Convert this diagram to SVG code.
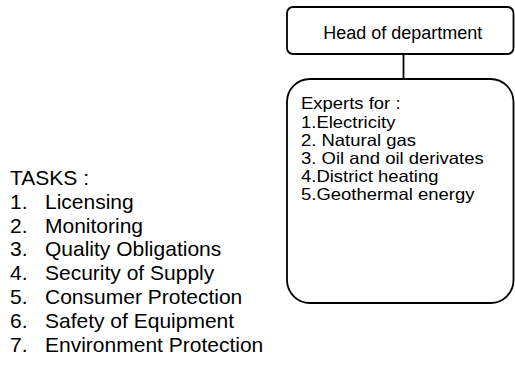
<svg xmlns="http://www.w3.org/2000/svg" width="515" height="369" viewBox="0 0 515 369">
<style>
.box{fill:#fff;stroke:#000;stroke-width:1.8}
.conn{stroke:#000;stroke-width:1.8;fill:none}
text{font-family:"Liberation Sans",Arial,sans-serif;fill:#000}
.t{font-size:18px}
.r{font-size:16.5px}
.l{font-size:21px}
</style>
<rect width="515" height="369" fill="#fff"/>
<g id="connectors">
<line class="conn" x1="403.5" y1="54" x2="403.5" y2="79"/>
</g>
<g id="head">
<rect class="box" x="287" y="7" width="226.5" height="47" rx="6"/>
<text class="t" x="402.7" y="39" text-anchor="middle">Head of department</text>
</g>
<g id="experts">
<rect class="box" x="287" y="79" width="226.5" height="224" rx="23"/>
<g transform="translate(301,0) scale(1.12,1)">
<text class="r" x="0" y="109.5">Experts for :</text>
<text class="r" x="0" y="127.6">1.Electricity</text>
<text class="r" x="0" y="145.7">2. Natural gas</text>
<text class="r" x="0" y="163.8">3. Oil and oil derivates</text>
<text class="r" x="0" y="181.9">4.District heating</text>
<text class="r" x="0" y="200">5.Geothermal energy</text>
</g>
</g>
<g id="tasks">
<text class="l" x="10" y="185">TASKS :</text>
<text class="l" x="10" y="208.8">1.</text><text class="l" x="45" y="208.8">Licensing</text>
<text class="l" x="10" y="232.6">2.</text><text class="l" x="45" y="232.6">Monitoring</text>
<text class="l" x="10" y="256.4">3.</text><text class="l" x="45" y="256.4">Quality Obligations</text>
<text class="l" x="10" y="280.2">4.</text><text class="l" x="45" y="280.2">Security of Supply</text>
<text class="l" x="10" y="304">5.</text><text class="l" x="45" y="304">Consumer Protection</text>
<text class="l" x="10" y="327.8">6.</text><text class="l" x="45" y="327.8">Safety of Equipment</text>
<text class="l" x="10" y="351.6">7.</text><text class="l" x="45" y="351.6">Environment Protection</text>
</g>
</svg>
